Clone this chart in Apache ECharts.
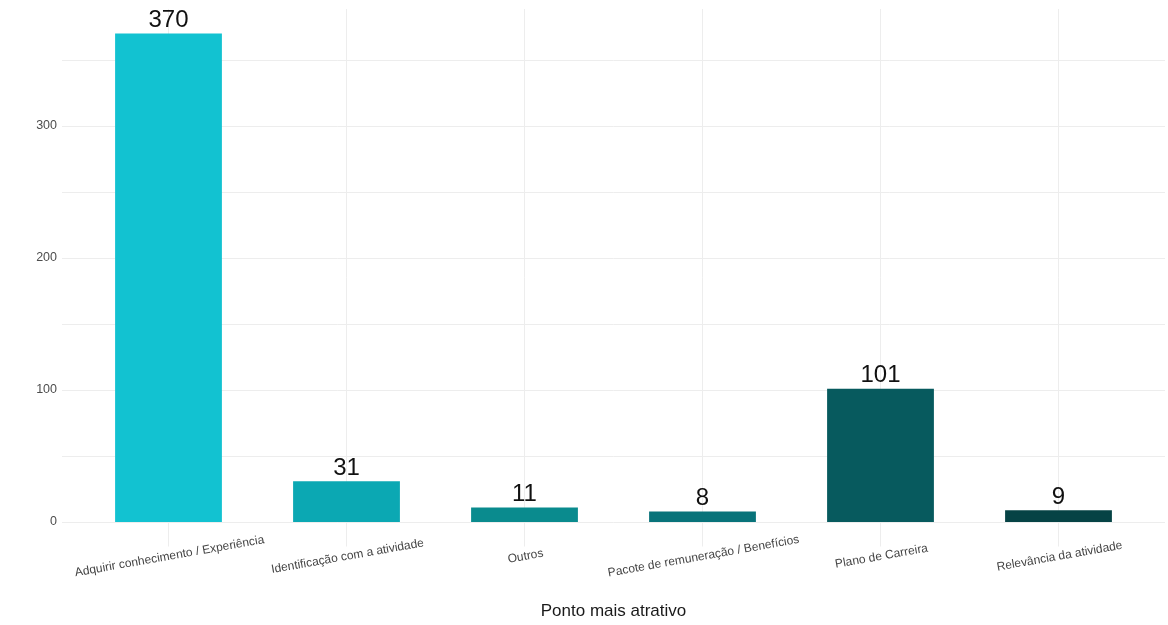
<!DOCTYPE html>
<html>
<head>
<meta charset="utf-8">
<script src="https://cdn.jsdelivr.net/npm/echarts@6/dist/echarts.min.js"></script>
<style>
html,body{margin:0;padding:0;background:#fff;}
#chart{width:1168px;height:625px;}
</style>
</head>
<body>
<div id="chart"></div>
<script>
const categories = [
  'Adquirir conhecimento / Experiência',
  'Identificação com a atividade',
  'Outros',
  'Pacote de remuneração / Benefícios',
  'Plano de Carreira',
  'Relevância da atividade'
];
const values = [370, 31, 11, 8, 101, 9];
const barColors = ['#12C2D1', '#0BA8B3', '#0A8B8E', '#08737A', '#075A5E', '#064345'];
const yTicks = [0, 100, 200, 300];
const axisTitle = 'Ponto mais atrativo';

const yMax = 388.5;
const yMinExpanded = -18.5;
const font = 'Liberation Sans, Arial, sans-serif';

const chart = echarts.init(document.getElementById('chart'));
chart.setOption({
  backgroundColor: '#ffffff',
  animation: false,
  grid: [
    {left: 62, right: 3, top: 9, bottom: 103},
    {left: 79.5, right: 20.5, top: 9, bottom: 78.5}
  ],
  xAxis: [
    {gridIndex: 0, type: 'value', show: false, min: 0, max: 1},
    {
      gridIndex: 1, type: 'category', data: categories,
      axisLine: {show: false}, axisTick: {show: false},
      splitLine: {show: false},
      axisLabel: {
        rotate: 10, align: 'center', verticalAlign: 'top', margin: 4,
        fontSize: 12, color: '#444444', fontFamily: font, interval: 0
      },
      name: axisTitle, nameLocation: 'middle', nameGap: 56,
      nameTextStyle: {fontSize: 17, color: '#1a1a1a', fontFamily: font}
    }
  ],
  yAxis: [
    {
      gridIndex: 0, type: 'value', min: 0, max: yMax, interval: 50,
      axisLine: {show: false}, axisTick: {show: false},
      axisLabel: {
        margin: 5, fontSize: 12.5, color: '#4d4d4d', fontFamily: font,
        formatter: v => (yTicks.indexOf(v) >= 0 ? String(v) : '')
      },
      splitLine: {show: true, showMaxLine: false, lineStyle: {color: '#ededed', width: 1}}
    },
    {gridIndex: 1, type: 'value', min: yMinExpanded, max: yMax, show: false}
  ],
  series: [
    {
      type: 'line', xAxisIndex: 1, yAxisIndex: 1, z: 0,
      data: values, symbol: 'none', lineStyle: {opacity: 0}, silent: true,
      markLine: {
        z: 0, zlevel: 0,
        silent: true, symbol: 'none', label: {show: false},
        lineStyle: {color: '#ededed', width: 1, type: 'solid'},
        data: categories.map(c => ({xAxis: c}))
      }
    },
    {
      type: 'bar', xAxisIndex: 1, yAxisIndex: 1, z: 3,
      barWidth: '60%',
      data: values.map((v, i) => ({value: v, itemStyle: {color: barColors[i]}})),
      label: {
        show: true, position: 'top', distance: 1,
        fontSize: 24, color: '#111111', fontFamily: font
      }
    }
  ]
});
</script>
</body>
</html>
